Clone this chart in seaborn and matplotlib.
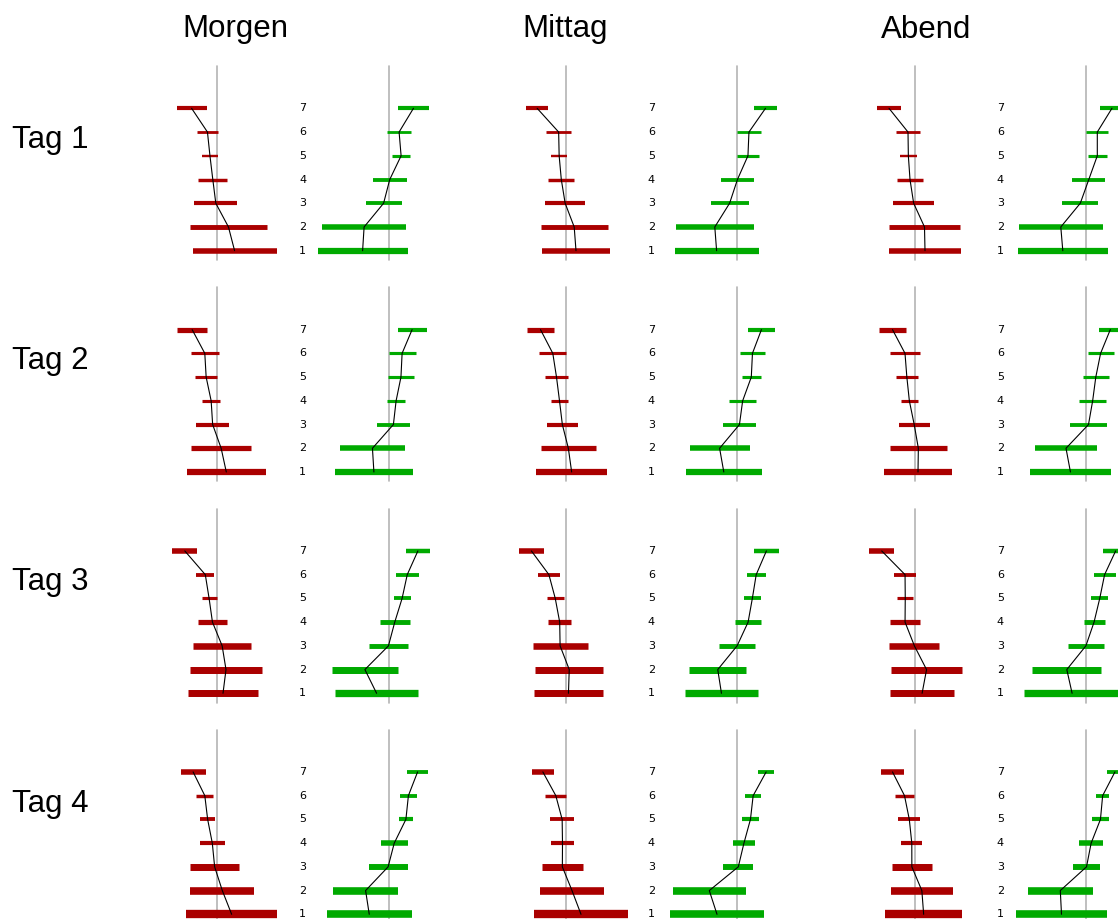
import numpy as np
import pandas as pd
import matplotlib
matplotlib.use("Agg")
import matplotlib.pyplot as plt
import seaborn as sns

# ---------------- data ----------------
levels = [1, 2, 3, 4, 5, 6, 7]
times = ["Morgen", "Mittag", "Abend"]
days = ["Tag 1", "Tag 2", "Tag 3", "Tag 4"]

# bar extents (left / right end relative to the neutral line), levels 1..7,
# one row per time of day (Morgen, Mittag, Abend)
tag1_red_lo = [[-24.7, -27.0, -23.0, -19.0, -15.7, -20.7, -40.7],
               [-24.0, -25.3, -20.7, -17.7, -15.0, -20.0, -40.0],
               [-26.0, -26.0, -21.7, -18.3, -15.3, -19.0, -38.3]]
tag1_red_hi = [[59.3, 49.3, 20.0, 10.0, 1.0, 1.0, -10.7],
               [44.0, 41.7, 19.0, 8.3, 1.3, 5.3, -17.7],
               [46.0, 45.0, 19.0, 8.3, 2.0, 5.0, -13.7]]
tag1_green_lo = [[-71.0, -66.7, -23.0, -16.0, 3.7, -1.3, 9.0],
                 [-62.7, -61.3, -26.7, -16.0, 0.0, 0.0, 16.7],
                 [-68.3, -67.3, -24.0, -14.0, 1.3, 0.0, 13.3]]
tag1_green_hi = [[19.0, 17.7, 13.0, 18.3, 21.3, 22.3, 40.7],
                 [21.3, 16.3, 11.3, 16.3, 21.3, 23.3, 39.7],
                 [21.3, 16.3, 12.0, 19.0, 20.7, 22.0, 38.0]]

tag2_red_lo = [[-30.3, -26.3, -21.0, -15.0, -22.3, -26.7, -40.0],
               [-30.0, -25.3, -19.3, -15.3, -21.3, -26.7, -39.0],
               [-31.3, -25.3, -16.3, -14.0, -19.3, -24.7, -36.0]]
tag2_red_hi = [[48.3, 34.0, 11.7, 2.7, 0.0, 1.7, -10.3],
               [41.3, 30.0, 12.0, 2.3, 2.3, 0.3, -12.0],
               [37.3, 32.0, 14.7, 2.7, 3.0, 4.7, -9.0]]
tag2_green_lo = [[-53.7, -48.3, -11.7, -1.7, -0.3, 0.0, 9.0],
                 [-51.3, -47.7, -14.7, -8.3, 4.3, 2.3, 10.3],
                 [-56.0, -51.3, -16.3, -7.0, -3.7, 1.3, 12.7]]
tag2_green_hi = [[24.3, 16.0, 21.3, 16.7, 25.0, 27.0, 38.0],
                 [24.3, 12.3, 19.0, 19.0, 23.7, 28.0, 38.0],
                 [24.3, 10.7, 20.7, 19.7, 22.7, 27.3, 35.3]]

tag3_red_lo = [[-29.3, -27.3, -24.3, -19.7, -15.7, -21.0, -45.0],
               [-31.7, -30.9, -33.3, -17.9, -19.5, -28.5, -47.2],
               [-25.2, -23.6, -25.6, -24.8, -17.9, -20.7, -45.9]]
tag3_red_hi = [[40.7, 44.7, 34.0, 10.0, -0.7, -3.0, -20.0],
               [36.6, 37.4, 21.5, 5.3, -2.0, -5.7, -22.0],
               [39.4, 46.7, 24.4, 4.9, -1.6, 0.8, -20.7]]
tag3_green_lo = [[-53.7, -56.7, -19.3, -8.7, 5.0, 7.3, 17.3],
                 [-52.0, -48.0, -18.3, -2.0, 6.5, 9.3, 16.3],
                 [-62.2, -54.0, -18.3, -2.8, 4.9, 7.3, 16.7]]
tag3_green_hi = [[29.7, 9.3, 19.0, 21.0, 22.0, 30.0, 41.3],
                 [20.3, 8.9, 17.9, 23.6, 23.6, 28.5, 41.9],
                 [33.8, 15.0, 17.5, 18.3, 22.0, 29.3, 42.0]]

tag4_red_lo = [[-31.0, -27.0, -27.0, -17.3, -17.3, -21.0, -36.7],
               [-31.7, -26.0, -24.0, -15.3, -16.0, -20.7, -34.3],
               [-29.7, -24.3, -23.0, -13.7, -16.7, -20.0, -33.7]]
tag4_red_hi = [[59.7, 37.0, 21.7, 7.3, -2.0, -4.0, -11.7],
               [61.7, 38.0, 16.7, 8.3, 8.3, 0.3, -12.0],
               [47.0, 38.0, 16.7, 7.3, 5.3, -1.0, -11.3]]
tag4_green_lo = [[-62.0, -55.7, -20.0, -7.7, 10.3, 11.3, 18.3],
                 [-67.3, -64.3, -14.0, -4.7, 4.3, 7.7, 20.7],
                 [-70.3, -58.7, -13.3, -7.0, 5.3, 9.7, 20.3]]
tag4_green_hi = [[23.3, 9.7, 19.0, 19.0, 24.3, 28.3, 39.7],
                 [26.7, 8.3, 16.0, 18.0, 22.0, 24.0, 37.0],
                 [20.7, 6.7, 13.7, 16.7, 23.0, 23.0, 37.0]]

# bar weights (drawn as bar thickness), levels 1..7
tag1_red_n = [5.3, 4.7, 4.0, 3.3, 2.3, 2.7, 4.0]
tag1_green_n = [6.0, 5.3, 3.7, 3.7, 3.0, 2.7, 4.0]
tag2_red_n = [6.0, 5.0, 4.0, 3.0, 3.0, 3.0, 5.0]
tag2_green_n = [6.0, 5.3, 3.7, 3.0, 3.0, 3.0, 4.0]
tag3_red_n = [6.7, 6.7, 6.3, 5.0, 3.0, 3.7, 5.3]
tag3_green_n = [7.0, 6.7, 4.7, 4.7, 3.7, 3.7, 4.3]
tag4_red_n = [8.0, 7.3, 6.7, 4.0, 3.7, 3.3, 5.3]
tag4_green_n = [7.3, 7.3, 5.7, 5.3, 4.0, 3.7, 3.7]

red_lo = [tag1_red_lo, tag2_red_lo, tag3_red_lo, tag4_red_lo]
red_hi = [tag1_red_hi, tag2_red_hi, tag3_red_hi, tag4_red_hi]
green_lo = [tag1_green_lo, tag2_green_lo, tag3_green_lo, tag4_green_lo]
green_hi = [tag1_green_hi, tag2_green_hi, tag3_green_hi, tag4_green_hi]
red_n = [tag1_red_n, tag2_red_n, tag3_red_n, tag4_red_n]
green_n = [tag1_green_n, tag2_green_n, tag3_green_n, tag4_green_n]

# ---------------- style / layout ----------------
sns.set_theme(style="white")
plt.rcParams['font.family'] = ['Liberation Sans', 'DejaVu Sans']

RED = "#aa0000"
GREEN = "#00aa00"
GRAY = "#b4b4b4"

W, H = 1118, 919
fig = plt.figure(figsize=(W / 100, H / 100), dpi=100)
fig.patch.set_facecolor("white")

RED_X = [217.3, 566.0, 915.0]
GAP = 171.3
L1_Y = [250.7, 472.0, 693.3, 914.3]
STEP = 23.73
HALF = 95
YMIN, YMAX = 0.61, 8.78
TITLE_X = [235, 565, 926.5]


def make_ax(xc, y1):
    top_px = y1 - (YMAX - 1) * STEP
    bot_px = y1 + (1 - YMIN) * STEP
    ax = fig.add_axes([(xc - HALF) / W, 1 - bot_px / H, 2 * HALF / W,
                       (bot_px - top_px) / H])
    ax.set_xlim(-HALF, HALF)
    ax.set_ylim(YMIN, YMAX)
    ax.set_axis_off()
    ax.patch.set_alpha(0)
    return ax


def draw_panel(ax, lo, hi, n, color):
    lo = np.asarray(lo)
    hi = np.asarray(hi)
    mid = (lo + hi) / 2
    ax.axvline(0, color=GRAY, lw=1.2, zorder=1)
    coll = ax.hlines(levels, lo, hi, colors=color,
                     linewidths=np.asarray(n) * 0.75, zorder=2)
    coll.set_capstyle('butt')
    coll.set_clip_on(False)
    df = pd.DataFrame({"mid": mid, "level": levels})
    sns.lineplot(data=df, x="mid", y="level", sort=False, estimator=None,
                 color="black", lw=0.8, ax=ax, zorder=3)
    for ln in ax.lines:
        ln.set_clip_on(False)


for r in range(len(days)):
    for c in range(len(times)):
        axr = make_ax(RED_X[c], L1_Y[r])
        draw_panel(axr, red_lo[r][c], red_hi[r][c], red_n[r], RED)
        for lv in levels:
            axr.text(85.4, lv, str(lv), ha="center", va="center",
                     fontsize=8, family=["DejaVu Sans"], color="black",
                     clip_on=False)
        axg = make_ax(RED_X[c] + GAP, L1_Y[r])
        draw_panel(axg, green_lo[r][c], green_hi[r][c], green_n[r], GREEN)

for c, t in enumerate(times):
    fig.text(TITLE_X[c] / W, 1 - 37.5 / H, t, ha="center", va="baseline",
             fontsize=22.5, color="black")
for r, d in enumerate(days):
    fig.text(12 / W, 1 - (148 + 221.2 * r) / H, d, ha="left", va="baseline",
             fontsize=22.5, color="black")

fig.savefig("out.png", dpi=100, facecolor="white")
